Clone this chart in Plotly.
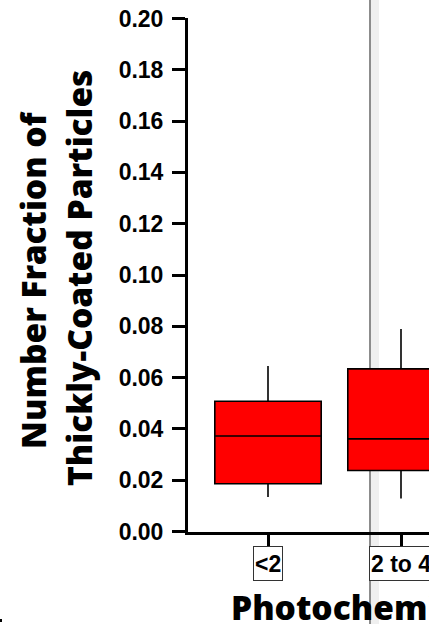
import plotly.graph_objects as go

# Photochemical age bins and five-number summaries of the thickly-coated fraction
categories = ["<2", "2 to 4"]
lower_whisker = [0.0134, 0.0129]
q1_values = [0.0186, 0.0238]
medians = [0.0372, 0.0361]
q3_values = [0.0508, 0.0634]
upper_whisker = [0.0645, 0.0789]

y_tick_values = [0.00, 0.02, 0.04, 0.06, 0.08, 0.10, 0.12, 0.14, 0.16, 0.18, 0.20]
y_tick_labels = ["%.2f" % v for v in y_tick_values]

W, H = 429, 624
ML, MR, MT, MB = 188, 0, 18, 92
PW, PH = W - ML - MR, H - MT - MB


def px_x(px):
    return (px - ML) / PW


def px_y(py):
    return (H - MB - py) / PH


title_font = dict(family="Noto Sans", size=33.5, color="black", weight=900)
tick_font = dict(family="Liberation Sans", size=23, color="black", weight="bold")

fig = go.Figure()
fig.add_trace(go.Box(
    x=categories,
    lowerfence=lower_whisker,
    q1=q1_values,
    median=medians,
    q3=q3_values,
    upperfence=upper_whisker,
    fillcolor="#ff0000",
    line=dict(color="black", width=1.6),
    whiskerwidth=0,
    boxpoints=False,
    showlegend=False,
    hoverinfo="skip",
))

# Category labels in small framed boxes under the ticks
annotations = []
for cat in categories:
    annotations.append(dict(
        x=cat, xref="x", y=0, yref="paper", yshift=-14,
        xanchor="center", yanchor="top", height=31,
        text=cat, showarrow=False, font=tick_font,
        bgcolor="white", bordercolor="#333333", borderwidth=1, borderpad=1,
    ))

# Axis titles
annotations.append(dict(
    x=px_x(229), xref="paper", y=0, yref="paper", yshift=-75,
    xanchor="left", yanchor="middle",
    text="Photochemical Age", showarrow=False, font=title_font,
))
annotations.append(dict(
    x=px_x(33), xref="paper", y=px_y(280), yref="paper",
    xanchor="center", yanchor="middle", textangle=-90,
    text="Number Fraction of", showarrow=False, font=title_font,
))
annotations.append(dict(
    x=px_x(79), xref="paper", y=px_y(278), yref="paper",
    xanchor="center", yanchor="middle", textangle=-90,
    text="Thickly-Coated Particles", showarrow=False, font=title_font,
))

shapes = [
    # panel divider running down the page
    dict(type="rect", xref="paper", yref="paper",
         x0=px_x(371), x1=px_x(379), y0=px_y(H), y1=px_y(0),
         fillcolor="#efefef", line=dict(width=0), layer="below"),
    dict(type="line", xref="paper", yref="paper",
         x0=px_x(370), x1=px_x(370), y0=px_y(H), y1=px_y(0),
         line=dict(color="#8c8c8c", width=2), layer="below"),
    # small mark at the lower left corner
    dict(type="rect", xref="paper", yref="paper",
         x0=px_x(0), x1=px_x(2), y0=px_y(622), y1=px_y(619),
         fillcolor="black", line=dict(width=0), layer="above"),
]

fig.update_layout(
    width=W, height=H,
    margin=dict(l=ML, r=MR, t=MT, b=MB, pad=0),
    paper_bgcolor="white",
    plot_bgcolor="rgba(0,0,0,0)",
    boxgap=0.2,
    boxgroupgap=0,
    showlegend=False,
    annotations=annotations,
    shapes=shapes,
    xaxis=dict(
        type="category",
        range=[-80 / 133, 161 / 133],
        showgrid=False, zeroline=False,
        showline=True, linecolor="black", linewidth=3,
        ticks="outside", ticklen=12, tickwidth=3, tickcolor="black",
        showticklabels=False,
    ),
    yaxis=dict(
        range=[-0.0002, 0.2002],
        tickvals=y_tick_values, ticktext=y_tick_labels,
        showgrid=False, zeroline=False,
        showline=True, linecolor="black", linewidth=3,
        ticks="outside", ticklen=13, tickwidth=3, tickcolor="black",
        tickfont=tick_font, ticklabelstandoff=4,
    ),
)

fig.write_html("out.html")
